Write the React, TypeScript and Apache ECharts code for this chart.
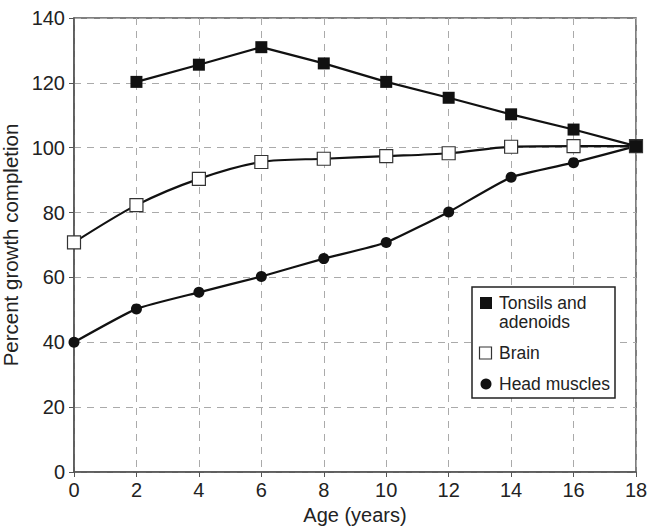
import React, { useEffect, useRef } from "react";
import * as echarts from "echarts";

const ages = [0, 2, 4, 6, 8, 10, 12, 14, 16, 18];
const tonsils: (number | null)[] = [null, 120.3, 125.6, 131, 126, 120.3, 115.4, 110.3, 105.6, 100.5];
const brain = [70.8, 82.3, 90.4, 95.6, 96.6, 97.4, 98.3, 100.3, 100.5, 100.5];
const headMuscles = [40, 50.3, 55.4, 60.3, 65.8, 70.8, 80.2, 90.9, 95.4, 100.5];
const seriesNames = ["Tonsils and adenoids", "Brain", "Head muscles"];
const legendLabels = ["Tonsils and\nadenoids", "Brain", "Head muscles"];

const FONT = "'Liberation Sans', Arial, sans-serif";

export default function App() {
  const ref = useRef<HTMLDivElement>(null);
  useEffect(() => {
    const chart = echarts.init(ref.current!, null, { renderer: "svg" });
    const pair = (vals: (number | null)[]) =>
      ages.map((a, i) => (vals[i] == null ? null : [a, vals[i]])).filter((d) => d !== null);
    const legendText = (y: number, text: string) => ({
      type: "text",
      x: 499,
      y,
      z: 11,
      style: { text, fontSize: 17.5, fill: "#222", fontFamily: FONT, lineHeight: 19 },
    });
    chart.setOption({
      animation: false,
      backgroundColor: "#fff",
      textStyle: { fontFamily: FONT },
      grid: {
        left: 74,
        right: 647 - 636,
        top: 18,
        bottom: 528 - 472,
        outerBoundsMode: "none",
        containLabel: false,
        show: true,
        borderColor: "#555",
        borderWidth: 1.5,
      },
      graphic: [
        {
          type: "rect",
          z: 10,
          shape: { x: 472, y: 287, width: 143, height: 111 },
          style: { fill: "#fff", stroke: "#222", lineWidth: 1.5 },
        },
        {
          type: "rect",
          z: 11,
          shape: { x: 480, y: 297, width: 12, height: 12 },
          style: { fill: "#111" },
        },
        legendText(293.5, legendLabels[0]),
        {
          type: "rect",
          z: 11,
          shape: { x: 479.5, y: 347, width: 12, height: 12 },
          style: { fill: "#fff", stroke: "#333", lineWidth: 1.2 },
        },
        legendText(343.5, legendLabels[1]),
        {
          type: "circle",
          z: 11,
          shape: { cx: 486, cy: 384, r: 5.5 },
          style: { fill: "#111" },
        },
        legendText(374.5, legendLabels[2]),
      ],
      xAxis: {
        type: "value",
        min: 0,
        max: 18,
        interval: 2,
        name: "Age (years)",
        nameLocation: "middle",
        nameGap: 26,
        nameTextStyle: { fontSize: 20, color: "#222", fontFamily: FONT },
        axisLine: { lineStyle: { color: "#555", width: 1.5 } },
        axisTick: { show: true, length: 5, lineStyle: { color: "#555" } },
        axisLabel: { fontSize: 20, color: "#222", margin: 8, fontFamily: FONT },
        splitLine: { show: true, lineStyle: { type: [7, 6], color: "#aaa", width: 1 } },
      },
      yAxis: {
        type: "value",
        min: 0,
        max: 140,
        interval: 20,
        name: "Percent growth completion",
        nameLocation: "middle",
        nameGap: 42,
        nameTextStyle: { fontSize: 20.5, color: "#222", fontFamily: FONT },
        axisLine: { show: true, lineStyle: { color: "#555", width: 1.5 } },
        axisTick: { show: true, length: 5, lineStyle: { color: "#555" } },
        axisLabel: { fontSize: 20, color: "#222", margin: 9, fontFamily: FONT },
        splitLine: { show: true, lineStyle: { type: [7, 6], color: "#aaa", width: 1 } },
      },
      series: [
        {
          name: seriesNames[0],
          type: "line",
          data: pair(tonsils),
          symbol: "rect",
          symbolSize: 12,
          lineStyle: { color: "#111", width: 2.2 },
          itemStyle: { color: "#111" },
          z: 3,
        },
        {
          name: seriesNames[1],
          type: "line",
          data: pair(brain),
          smooth: 0.3,
          symbol: "rect",
          symbolSize: 13,
          lineStyle: { color: "#111", width: 2.2 },
          itemStyle: { color: "#fff", borderColor: "#333", borderWidth: 1.2 },
          z: 2,
        },
        {
          name: seriesNames[2],
          type: "line",
          data: pair(headMuscles),
          smooth: 0.15,
          symbol: "circle",
          symbolSize: 11,
          lineStyle: { color: "#111", width: 2.2 },
          itemStyle: { color: "#111" },
          z: 2,
        },
      ],
    });
    return () => chart.dispose();
  }, []);
  return <div ref={ref} style={{ width: 647, height: 528, position: "absolute", left: 0, top: 0 }} />;
}
